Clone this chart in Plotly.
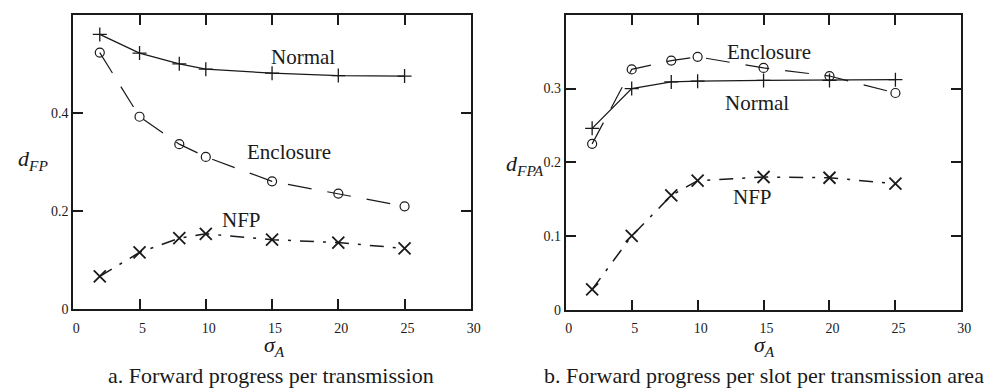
import plotly.graph_objects as go

sigma = [2, 5, 8, 10, 15, 20, 25]

# Panel a: forward progress per transmission (d_FP)
a_normal = [0.560, 0.522, 0.500, 0.489, 0.481, 0.476, 0.475]
a_enclosure = [0.523, 0.392, 0.336, 0.310, 0.260, 0.235, 0.209]
a_nfp = [0.066, 0.115, 0.144, 0.153, 0.141, 0.135, 0.123]

# Panel b: forward progress per slot per transmission area (d_FPA)
b_normal = [0.246, 0.300, 0.309, 0.310, 0.311, 0.311, 0.312]
b_enclosure = [0.225, 0.326, 0.338, 0.343, 0.328, 0.317, 0.294]
b_nfp = [0.0275, 0.100, 0.155, 0.175, 0.180, 0.179, 0.171]

x_ticks = [0, 5, 10, 15, 20, 25, 30]
a_yticks = [0, 0.2, 0.4]
b_yticks = [0, 0.1, 0.2, 0.3]

SERIF = "Times New Roman, Liberation Serif, DejaVu Serif, serif"
INK = "#1a1a1a"
W, H = 994, 390

fig = go.Figure()

def add_panel(xa, ya, normal, enclosure, nfp):
    fig.add_trace(go.Scatter(
        x=sigma, y=normal, xaxis=xa, yaxis=ya, mode="lines+markers",
        line=dict(color=INK, width=1.3),
        marker=dict(symbol="cross-thin", size=10, color=INK,
                    line=dict(width=1.3, color=INK)),
        showlegend=False, hoverinfo="x+y", cliponaxis=False))
    fig.add_trace(go.Scatter(
        x=sigma, y=enclosure, xaxis=xa, yaxis=ya, mode="lines+markers",
        line=dict(color=INK, width=1.2, dash="24px,16px"),
        marker=dict(symbol="circle-open", size=9, color=INK,
                    line=dict(width=1.2, color=INK)),
        showlegend=False, hoverinfo="x+y", cliponaxis=False))
    fig.add_trace(go.Scatter(
        x=sigma, y=nfp, xaxis=xa, yaxis=ya, mode="lines+markers",
        line=dict(color=INK, width=1.5, dash="14px,9px,3px,9px"),
        marker=dict(symbol="x-thin", size=12, color=INK,
                    line=dict(width=1.8, color=INK)),
        showlegend=False, hoverinfo="x+y", cliponaxis=False))

add_panel("x", "y", a_normal, a_enclosure, a_nfp)
add_panel("x2", "y2", b_normal, b_enclosure, b_nfp)

def px_x(p):
    return min(1.0, max(0.0, p / W))

def px_y(p):
    return min(1.0, max(0.0, 1 - p / H))

tickfont = dict(family=SERIF, size=14, color=INK)
common_x = dict(range=[0, 30], tickvals=x_ticks, ticktext=[str(v) for v in x_ticks],
                showline=True, linecolor=INK, linewidth=2, mirror="allticks",
                ticks="inside", ticklen=10, tickwidth=2, tickcolor=INK,
                showgrid=False, zeroline=False, tickfont=tickfont,
                ticklabelstandoff=5, ticklabelshift=3)
common_y = dict(showline=True, linecolor=INK, linewidth=2, mirror="allticks",
                ticks="inside", ticklen=10, tickwidth=2, tickcolor=INK,
                showgrid=False, zeroline=False, tickfont=tickfont)

fig.update_layout(
    width=W, height=H,
    margin=dict(l=0, r=0, t=0, b=0),
    paper_bgcolor="white", plot_bgcolor="white",
    xaxis=dict(domain=[px_x(65), px_x(467)], anchor="y", **common_x),
    yaxis=dict(domain=[px_y(307), px_y(7)], anchor="x", range=[0, 0.6],
               tickvals=a_yticks, ticktext=["0", "0.2", "0.4"], **common_y),
    xaxis2=dict(domain=[px_x(563), px_x(963)], anchor="y2", **common_x),
    yaxis2=dict(domain=[px_y(308), px_y(7)], anchor="x2", range=[0, 0.4],
                tickvals=b_yticks, ticktext=["0", "0.1", "0.2", "0.3"], **common_y),
)

def label(text, x, y, size=21):
    fig.add_annotation(text=text, x=px_x(x), y=px_y(y), xref="paper", yref="paper",
                       showarrow=False, xanchor="center", yanchor="middle",
                       font=dict(family=SERIF, size=size, color=INK))

# series labels, panel a
label("Normal", 297, 50)
label("Enclosure", 283, 147)
label("NFP", 235, 216)
# series labels, panel b
label("Enclosure", 768, 45)
label("Normal", 756, 97)
label("NFP", 752, 193)

# axis titles
label("<i>d</i><sub><i>FP</i></sub>", 24, 155, size=22)
label("<i>σ</i><sub><i>A</i></sub>", 268, 345, size=22)
label("<i>d</i><sub><i>FPA</i></sub>", 522, 160, size=22)
label("<i>σ</i><sub><i>A</i></sub>", 764, 345, size=22)

# captions
label("a. Forward progress per transmission", 265, 375, size=22)
label("b. Forward progress per slot per transmission area", 763, 375, size=22)

fig.write_html("out.html")
